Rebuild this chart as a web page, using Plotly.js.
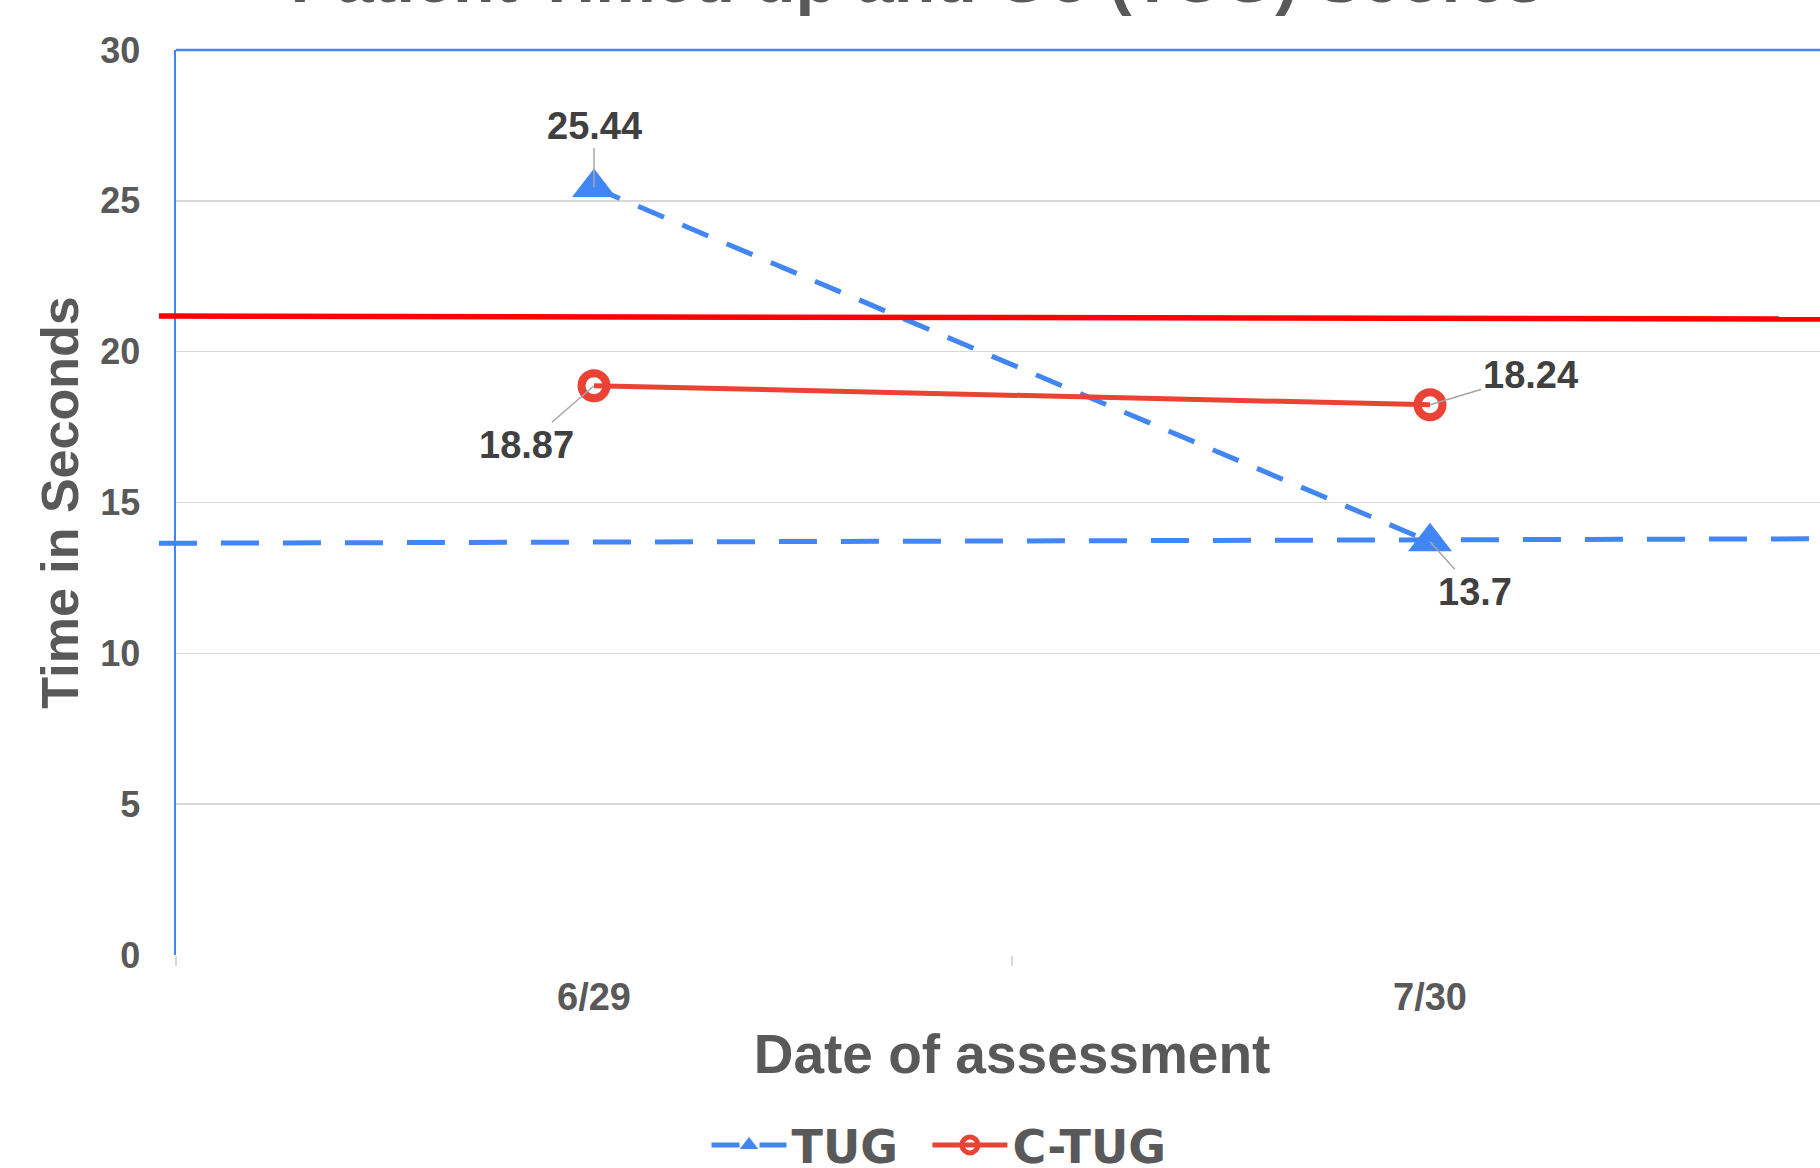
<!DOCTYPE html>
<html>
<head>
<meta charset="utf-8">
<script src="https://cdn.plot.ly/plotly-3.0.1.min.js"></script>
<style>
html, body { margin: 0; padding: 0; overflow: hidden; background: #ffffff; }
#chart { width: 1900px; height: 1168px; }
</style>
</head>
<body>
<div id="chart"></div>
<script>
// ---- data ----
var dates = ['6/29', '7/30'];
var tugValues = [25.44, 13.7];
var ctugValues = [18.87, 18.24];
var tugCutoff = [13.65, 13.8];    // dashed blue reference line (left, right)
var ctugCutoff = [21.18, 21.08];  // solid red reference line (left, right)
var yTicks = [0, 5, 10, 15, 20, 25, 30];

// ---- label offsets (px) ----
var tugLabelOffsets = [[0, -62], [45, 50]];
var ctugLabelOffsets = [[-68, 59], [100, -30]];

var BLUE = '#4285F4';
var RED = '#EA4335';
var FONT = 'Liberation Sans, Arial, sans-serif';

var traces = [
  {
    type: 'scatter', mode: 'lines+markers', name: 'TUG', legend: 'legend',
    x: dates, y: tugValues,
    line: { color: BLUE, width: 5, dash: '28px,20px' },
    marker: { symbol: 'triangle-up', size: 38, color: BLUE },
    cliponaxis: false
  },
  {
    type: 'scatter', mode: 'lines+markers', name: 'C-TUG', legend: 'legend2',
    x: dates, y: ctugValues,
    line: { color: RED, width: 5 },
    marker: { symbol: 'circle-open', size: 25, color: RED, line: { color: RED, width: 8 } },
    cliponaxis: false
  }
];

function labelAnnotations(values, offsets) {
  return values.map(function (v, i) {
    return {
      x: dates[i], y: v, xref: 'x', yref: 'y',
      text: String(v),
      showarrow: true, arrowhead: 0, arrowwidth: 1.5, arrowcolor: '#a6a6a6',
      ax: offsets[i][0], ay: offsets[i][1],
      font: { family: FONT, size: 38, color: '#404040', weight: 'bold' }
    };
  });
}

var annotations = labelAnnotations(tugValues, tugLabelOffsets)
  .concat(labelAnnotations(ctugValues, ctugLabelOffsets));

var shapes = [
  { type: 'line', xref: 'paper', yref: 'paper', x0: 0, x1: 1, y0: 1, y1: 1,
    line: { color: BLUE, width: 2.5 } },
  { type: 'line', xref: 'paper', yref: 'y', x0: -0.0102, x1: 1,
    y0: ctugCutoff[0], y1: ctugCutoff[1], line: { color: '#FF0000', width: 5.5 } },
  { type: 'line', xref: 'paper', yref: 'y', x0: -0.0102, x1: 1,
    y0: tugCutoff[0], y1: tugCutoff[1], line: { color: BLUE, width: 5, dash: '38px,24px' } }
];

var legendFont = { family: 'DejaVu Sans, sans-serif', size: 46, color: '#595959', weight: 'bold' };

var layout = {
  width: 1900, height: 1168,
  margin: { l: 176, r: 52, t: 50, b: 213, autoexpand: false },
  paper_bgcolor: '#ffffff', plot_bgcolor: '#ffffff',
  font: { family: FONT, color: '#595959', weight: 'bold' },
  title: {
    text: 'Patient Timed up and Go (TUG) Scores',
    font: { family: FONT, size: 68, color: '#595959', weight: 'bold' },
    xref: 'container', yref: 'container', x: 0.4826, xanchor: 'center',
    y: 1 - 2 / 1168, yanchor: 'bottom'
  },
  xaxis: {
    type: 'category', categoryorder: 'array', categoryarray: dates,
    range: [-0.5, 1.5], fixedrange: true, automargin: false,
    showgrid: false, zeroline: false, showline: false,
    tickson: 'boundaries', ticks: 'outside', ticklen: 10, tickwidth: 2, tickcolor: '#d9d9d9',
    ticklabelstandoff: 16,
    tickfont: { family: FONT, size: 38, color: '#595959', weight: 'bold' },
    title: { text: 'Date of assessment', standoff: 17,
      font: { family: FONT, size: 55, color: '#595959', weight: 'bold' } }
  },
  yaxis: {
    range: [0, 30], tickvals: yTicks, ticktext: yTicks.map(String), fixedrange: true,
    automargin: false,
    showgrid: true, gridcolor: '#d9d9d9', gridwidth: 1.5,
    zeroline: false, showline: true, linecolor: BLUE, linewidth: 2.5,
    ticks: '', ticklabelstandoff: 26,
    tickfont: { family: FONT, size: 36, color: '#595959', weight: 'bold' },
    title: { text: 'Time in Seconds', standoff: 5,
      font: { family: FONT, size: 52, color: '#595959', weight: 'bold' } }
  },
  showlegend: true,
  legend: {
    orientation: 'h', x: 0.3173, xanchor: 'left', y: -0.21, yanchor: 'middle',
    itemwidth: 75, font: legendFont, bgcolor: 'rgba(0,0,0,0)'
  },
  legend2: {
    orientation: 'h', x: 0.4494, xanchor: 'left', y: -0.21, yanchor: 'middle',
    itemwidth: 75, font: legendFont, bgcolor: 'rgba(0,0,0,0)'
  },
  shapes: shapes,
  annotations: annotations
};

Plotly.newPlot('chart', traces, layout, { displayModeBar: false, staticPlot: true });
</script>
</body>
</html>
